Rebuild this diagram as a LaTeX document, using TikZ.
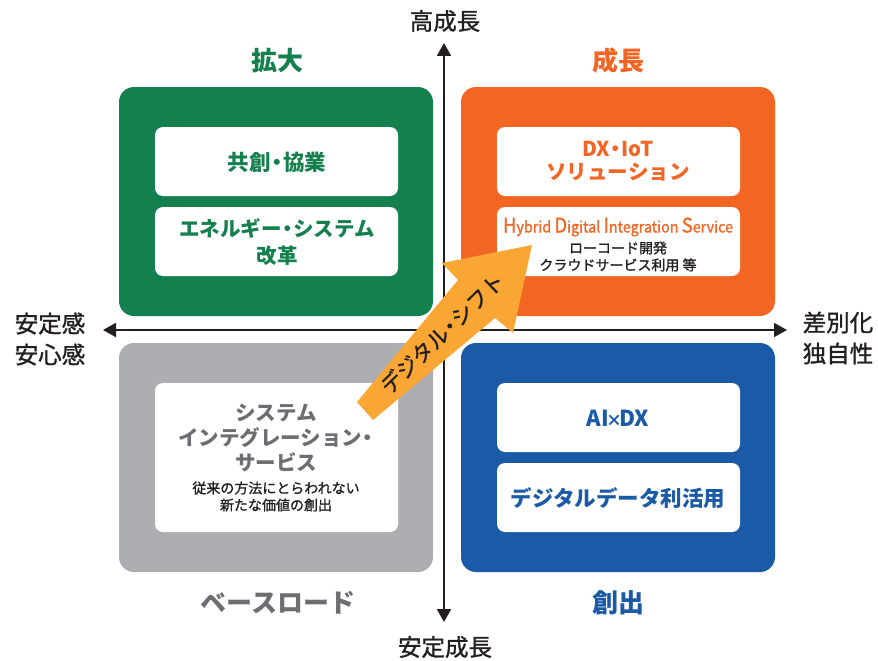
\documentclass[tikz,border=0pt]{standalone}
\usepackage{fontspec}
\usepackage{graphicx}
\usetikzlibrary{arrows.meta}
\setmainfont{Noto Sans CJK JP}
\newfontfamily\jp{Noto Sans CJK JP}
\newfontfamily\jpm{Noto Sans CJK JP}[FakeBold=1.2]
\definecolor{cgreen}{RGB}{20,128,78}
\definecolor{corange}{RGB}{242,101,35}
\definecolor{cgray}{RGB}{173,174,177}
\definecolor{cblue}{RGB}{26,90,166}
\definecolor{carrow}{RGB}{249,166,52}
\definecolor{cgtext}{RGB}{109,110,113}
\definecolor{cdark}{RGB}{35,31,32}
\newcommand{\ndot}{\kern-0.22em・\kern-0.22em}
\tikzset{
  title/.style={font=\jp\bfseries\fontsize{26}{30}\selectfont, inner sep=0pt},
  axlabel/.style={font=\jpm\fontsize{23.5}{31}\selectfont, text=cdark, align=center, inner sep=0pt},
  boxtxt/.style={font=\jp\bfseries\fontsize{20.5}{25}\selectfont, align=center, inner sep=0pt},
  smalltxt/.style={font=\jpm\fontsize{14}{17}\selectfont, text=cdark, align=center, inner sep=0pt},
  axis/.style={line width=2pt, draw=cdark, {Triangle[length=13pt,width=14pt]}-{Triangle[length=13pt,width=14pt]}}
}
\begin{document}
\begin{tikzpicture}[x=1pt,y=-1pt]
\useasboundingbox (0,0) rectangle (878,661);
% quadrants
\fill[cgreen, rounded corners=15pt] (119,87) rectangle (433,316);
\fill[corange, rounded corners=15pt] (461,87) rectangle (775,316);
\fill[cgray, rounded corners=15pt] (119,343) rectangle (433,572);
\fill[cblue, rounded corners=15pt] (461,343) rectangle (775,572);
% inner boxes
\fill[white, rounded corners=8pt] (155,127) rectangle (398,196);
\fill[white, rounded corners=8pt] (155,207) rectangle (398,276);
\fill[white, rounded corners=8pt] (497,127) rectangle (740,196);
\fill[white, rounded corners=8pt] (497,207) rectangle (740,276);
\fill[white, rounded corners=8pt] (155,383) rectangle (398,532);
\fill[white, rounded corners=8pt] (497,383) rectangle (740,452);
\fill[white, rounded corners=8pt] (497,463) rectangle (740,532);
% titles
\node[title, text=cgreen] (tG) at (277,61) {拡大};
\node[title, text=corange] (tO) at (618,61) {成長};
\node[title, text=cgtext] (tA) at (278,603) {ベースロード};
\node[title, text=cblue] (tB) at (618,603) {創出};
% box texts
\node[boxtxt, text=cgreen, font=\jp\bfseries\fontsize{21.5}{25}\selectfont] (g1t) at (277,162) {共創\ndot 協業};
\node[boxtxt, text=cgreen, font=\jp\bfseries\fontsize{20.5}{27}\selectfont] (g2t) at (277,242) {エネルギー\ndot システム\\改革};
\node[boxtxt, text=corange, font=\jp\bfseries\fontsize{20.5}{23}\selectfont] (o1t) at (618,161.5) {DX\ndot IoT\\ソリューション};
\node[inner sep=0pt, text=corange] (o2h) at (618,227) {\resizebox{230pt}{\height}{\jpm{\fontsize{20}{20}\selectfont H}{\fontsize{15.5}{15}\selectfont ybrid }{\fontsize{20}{20}\selectfont D}{\fontsize{15.5}{15}\selectfont igital }{\fontsize{20}{20}\selectfont I}{\fontsize{15.5}{15}\selectfont ntegration }{\fontsize{20}{20}\selectfont S}{\fontsize{15.5}{15}\selectfont ervice}}};
\node[smalltxt] (o2t) at (618,256.5) {ローコード開発\\クラウドサービス利用 等};
\node[boxtxt, text=cgtext] (a1t) at (276,438) {システム\\インテグレーション\ndot\\サービス};
\node[smalltxt] (a1s) at (276,496.5) {従来の方法にとらわれない\\新たな価値の創出};
\node[boxtxt, text=cblue, font=\jp\bfseries\fontsize{22}{25}\selectfont] (b1t) at (618,418) {AI\kern-0.12em{\fontsize{16}{16}\selectfont×}\kern-0.12em DX};
\node[boxtxt, text=cblue, font=\jp\bfseries\fontsize{21.5}{25}\selectfont] (b2t) at (618,498) {デジタルデータ利活用};
% axes
\coordinate (vt) at (444,43);
\coordinate (vb) at (444,622);
\coordinate (hl) at (103,330);
\coordinate (hr) at (787,330);
\draw[axis] (vt) -- (vb);
\draw[axis] (hl) -- (hr);
\node[axlabel] (lt) at (445,21) {高成長};
\node[axlabel] (lb) at (445,647) {安定成長};
\node[axlabel] (ll) at (50,339) {安定感\\安心感};
\node[axlabel] (lr) at (838,338) {差別化\\独自性};
% digital shift arrow
\fill[carrow] (357,402) -- (458,280) -- (442,263) -- (532,245) -- (513,333) -- (495,318) -- (373,420) -- cycle;
\node[font=\jpm\fontsize{21.5}{21}\selectfont, text=cdark, rotate=44, inner sep=0pt] (ds) at (442,333) {デジタル\ndot シフト};
\end{tikzpicture}
\end{document}
